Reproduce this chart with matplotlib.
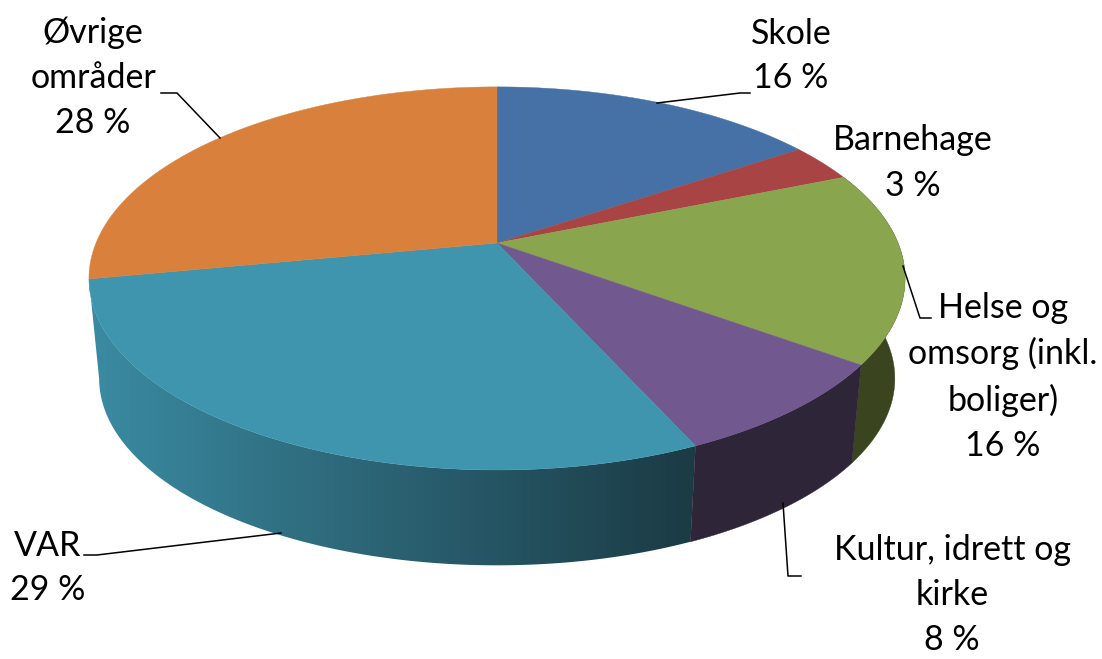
import numpy as np
import matplotlib
matplotlib.use('Agg')
import matplotlib.pyplot as plt
from matplotlib.patches import Polygon
from matplotlib.colors import LinearSegmentedColormap

plt.rcParams['font.family'] = ['Lato', 'DejaVu Sans']

# Data
categories = ['Skole', 'Barnehage', 'Helse og\nomsorg (inkl.\nboliger)',
              'Kultur, idrett og\nkirke', 'VAR', 'Øvrige\nområder']
shares = [15.6, 3.2, 16.2, 8.25, 28.75, 28.0]
percent_labels = ['16 %', '3 %', '16 %', '8 %', '29 %', '28 %']
top_colors = ['#4571a6', '#a84544', '#89a54e', '#71588f', '#4095ae', '#d9813c']
side_colors = ['#2a4463', '#652929', '#3a451f', '#2e2539', '#1b3b45', '#83501f']

# label centre and leader line (pixels)
label_pos = [(791, 56), (913, 163), (1003, 377), (952, 595), (48, 568), (93, 78)]
leaders = [None, None, None, None, None, None]
leaders[0] = [(657, 103), (740, 93), (750, 93)]
leaders[2] = [(903, 266), (920, 318), (931, 318)]
leaders[3] = [(783, 503), (788, 576), (801, 576)]
leaders[4] = [(281, 533), (97, 555), (84, 555)]
leaders[5] = [(220, 138), (177, 93), (161, 93)]

# Perspective of the pie disc, fitted to the picture
cx, cy = 497, 243
rx, ry, persp = 401, 185, -0.185
low_cy, low_scale = 344, 0.975


def project(t):
    u, v = np.sin(t), -np.cos(t)
    w = 1 + persp * v
    return rx * u / w, ry * v / w


def wall(t):
    x, y = project(t)
    top = np.c_[cx + x, cy + y]
    low = np.c_[cx + x * low_scale, low_cy + y * low_scale]
    return np.vstack([top, low[::-1]])


fig = plt.figure(figsize=(11.02, 6.59), dpi=100)
ax = fig.add_axes([0, 0, 1, 1])

edges = np.concatenate([[0], np.cumsum(shares)]) / np.sum(shares) * 2 * np.pi

# Side walls, only the front ones can be seen
for i in [2, 3]:
    t = np.linspace(edges[i], edges[i + 1], 120)
    ax.add_patch(Polygon(wall(t), closed=True, fc=side_colors[i], ec=side_colors[i],
                         lw=0.3, zorder=2.6))

# gradient runs over the x span 97..690, held flat outside it
grad_left, grad_right = 70, 720
stops = [(97 - grad_left) / (grad_right - grad_left), (370 - grad_left) / (grad_right - grad_left),
         (690 - grad_left) / (grad_right - grad_left)]
var_cmap = LinearSegmentedColormap.from_list(
    'var', [(0, '#3a8aa1'), (stops[0], '#3a8aa1'), (stops[1], '#2c6576'), (stops[2], '#1b3b45'), (1, '#1b3b45')])
t = np.linspace(edges[4], edges[5], 200)
var_wall = Polygon(wall(t), closed=True, fc='none', ec='none', transform=ax.transData)
ax.add_patch(var_wall)
img = ax.imshow(np.linspace(0, 1, 512).reshape(1, -1), cmap=var_cmap, aspect='auto',
                extent=[grad_left, grad_right, 659, 0], zorder=2.5)
img.set_clip_path(var_wall)

# Top faces
for i in range(len(shares)):
    t = np.linspace(edges[i], edges[i + 1], 120)
    x, y = project(t)
    ax.fill(np.r_[cx, cx + x], np.r_[cy, cy + y], color=top_colors[i], lw=0.3, zorder=3)

# Leader lines and labels
for i in range(len(categories)):
    if leaders[i] is not None:
        xs, ys = zip(*leaders[i])
        ax.plot(xs, ys, color='black', lw=1.1, zorder=4)
    ax.text(label_pos[i][0], label_pos[i][1], categories[i] + '\n' + percent_labels[i],
            ha='center', va='center', fontsize=24.5, linespacing=1.5,
            color='black', zorder=5)

ax.set_xlim(0, 1102)
ax.set_ylim(659, 0)
ax.axis('off')

fig.savefig('out.png', dpi=100)
